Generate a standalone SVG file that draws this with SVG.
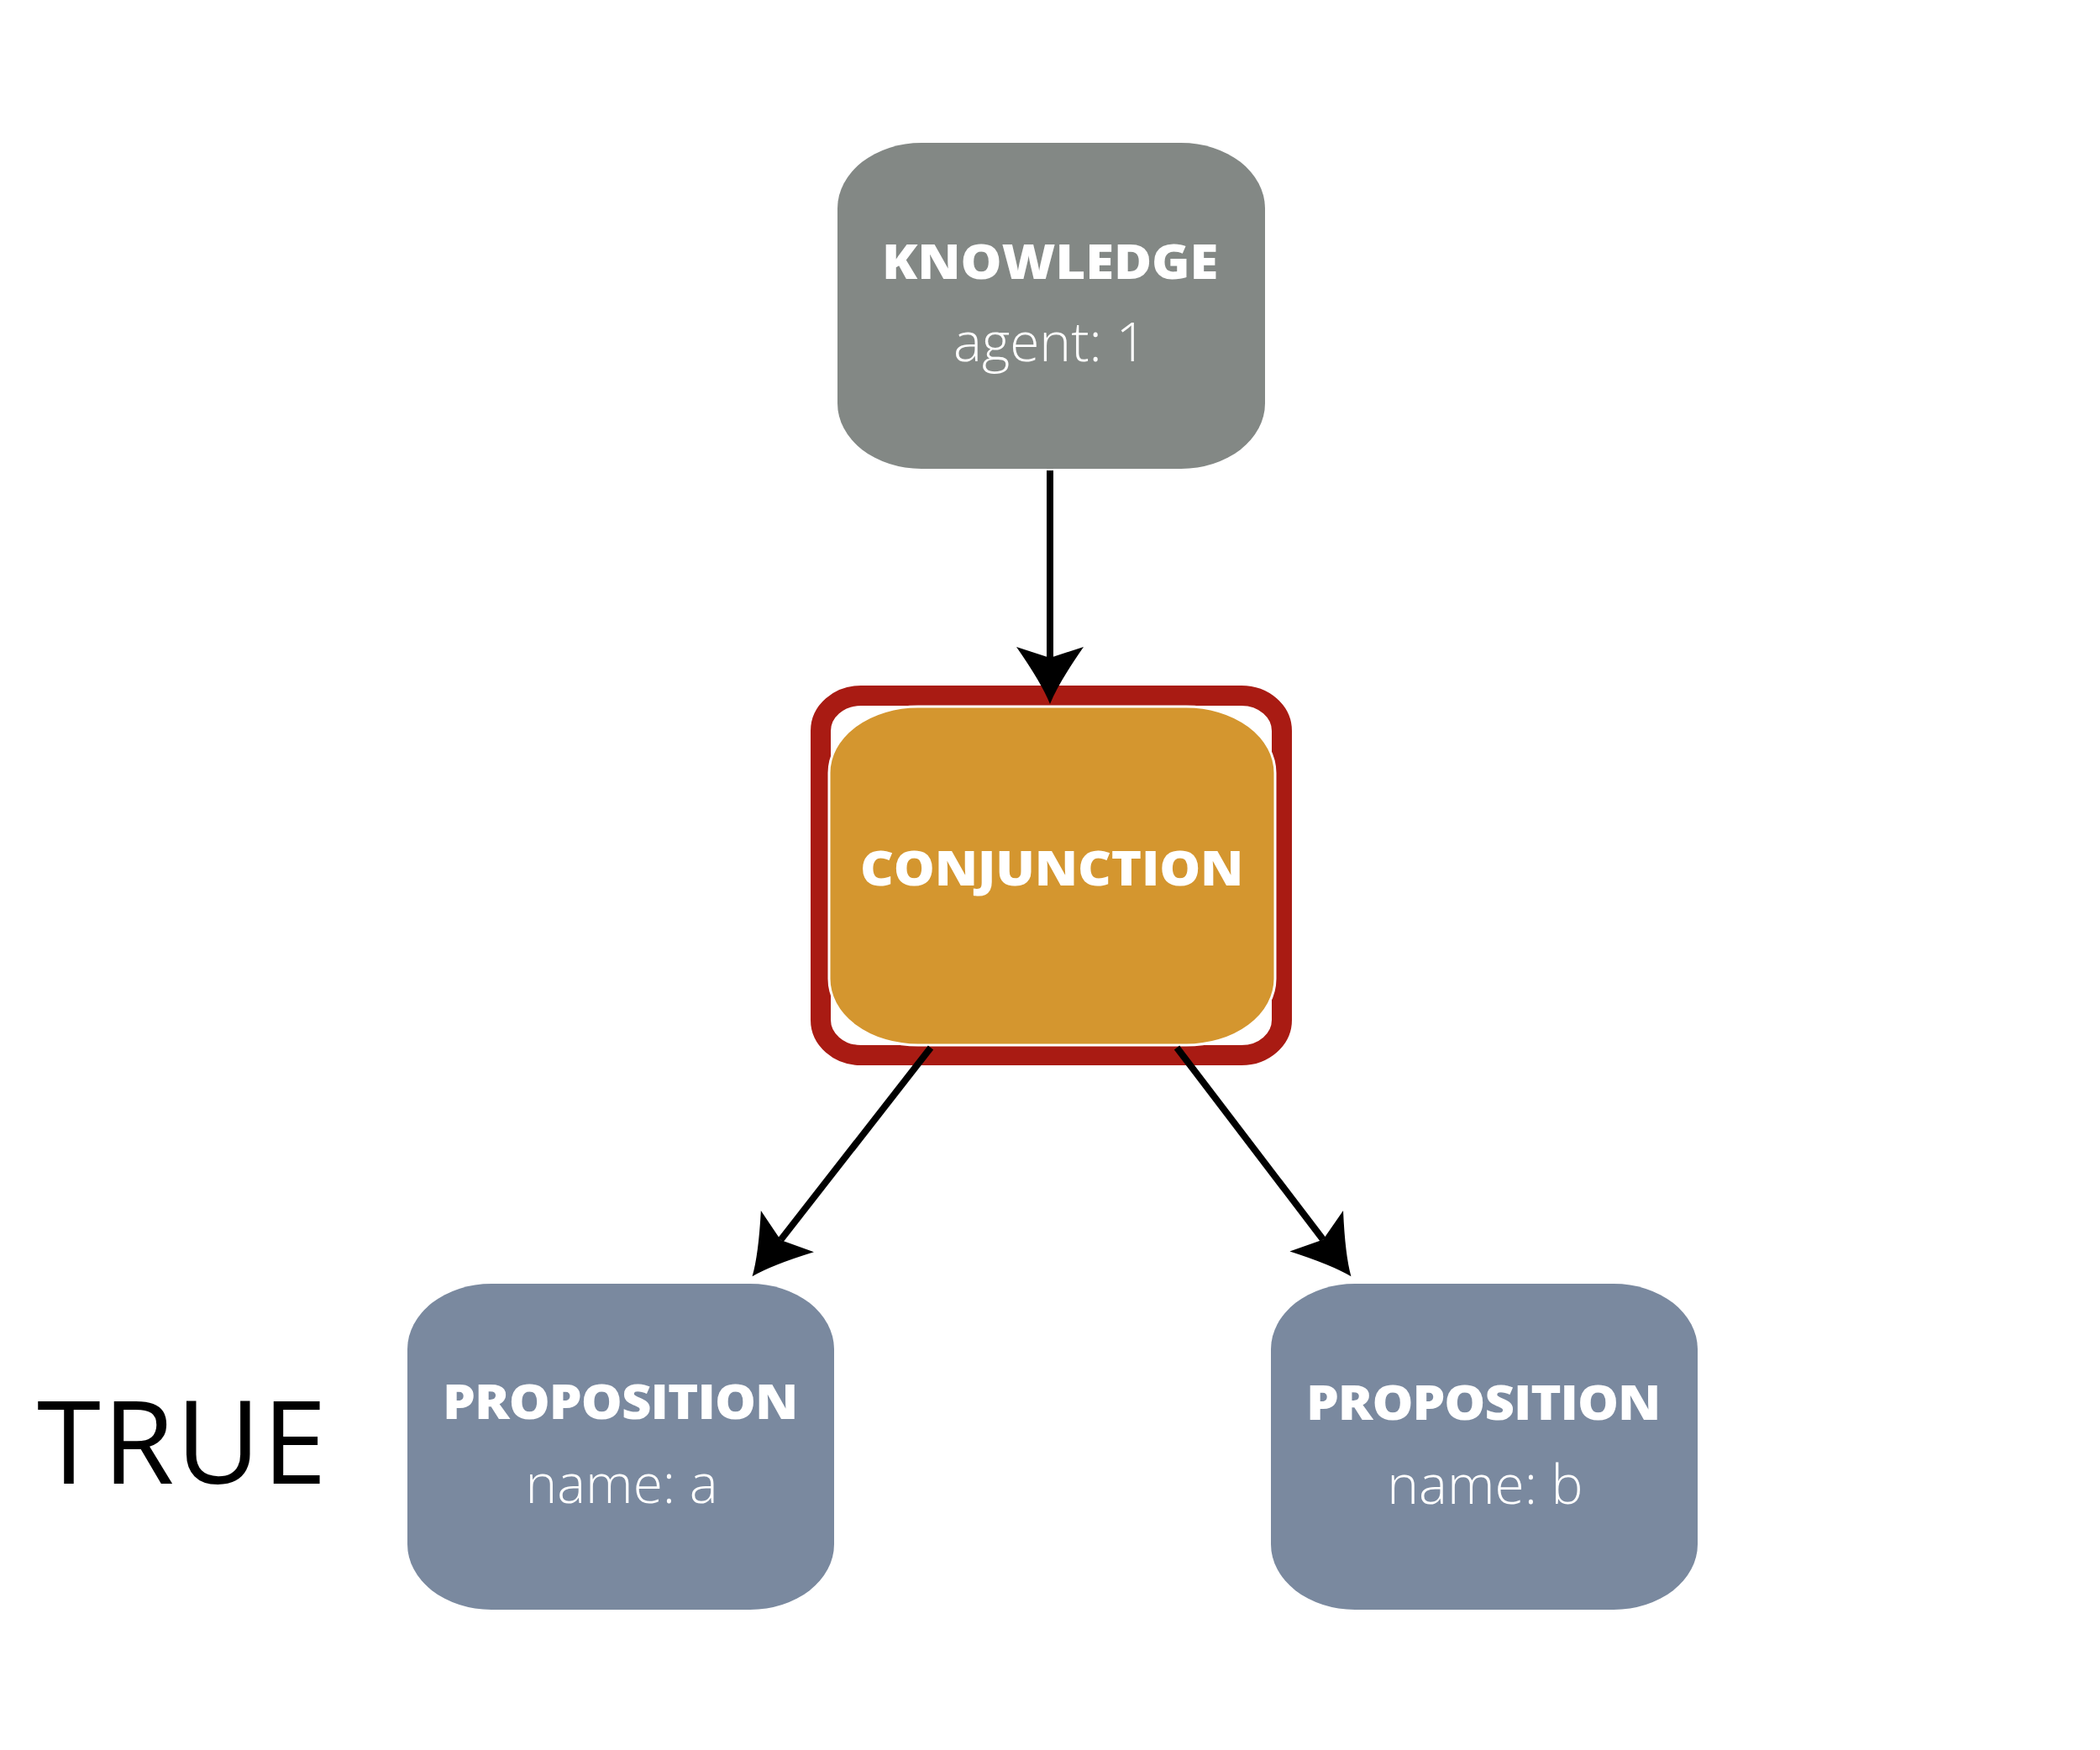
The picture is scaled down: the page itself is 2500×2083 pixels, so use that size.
<svg xmlns="http://www.w3.org/2000/svg" width="2500" height="2083" viewBox="0 0 2500 2083">
<style>
.title{font-family:"Open Sans","DejaVu Sans",sans-serif;font-weight:800;font-size:56px;fill:#ffffff}
.sub{font-family:"Open Sans","DejaVu Sans",sans-serif;font-weight:300;font-size:64px;fill:#ffffff;text-anchor:middle}
.conn{stroke:#000000;stroke-width:8;fill:none}
.big{font-family:"Open Sans","DejaVu Sans",sans-serif;font-weight:400;font-size:138px;fill:#000000}
</style>
<defs>
<marker id="ah" markerUnits="userSpaceOnUse" orient="auto" overflow="visible" markerWidth="1" markerHeight="1" refX="0" refY="0">
<path d="M55,0 Q30,-10 -13,-40 L0,0 L-13,40 Q30,10 55,0 Z" fill="#000000"/>
</marker>
</defs>
<rect width="2500" height="2083" fill="#ffffff"/>
<g id="knowledge">
<rect x="997" y="170" width="509" height="388" rx="100" ry="78" fill="#838885"/>
<text class="title" transform="translate(1050,332) scale(1.1,1)" x="0" y="0" textLength="364" lengthAdjust="spacing">KNOWLEDGE</text>
<text class="sub" x="1250" y="430">agent: 1</text>
</g>
<g id="conjunction">
<rect x="977" y="828" width="549" height="428" rx="48" ry="42" fill="#ffffff" stroke="#a91b13" stroke-width="24"/>
<rect x="987" y="841" width="531" height="403" rx="106" ry="79" fill="#d4962f" stroke="#ffffff" stroke-width="3"/>
<text class="title" transform="translate(1024,1054) scale(1.1,1)" x="0" y="0" textLength="415" lengthAdjust="spacing">CONJUNCTION</text>
</g>
<g id="proposition-a">
<rect x="485" y="1528" width="508" height="388" rx="100" ry="78" fill="#7a899f"/>
<text class="title" transform="translate(527,1689) scale(1.1,1)" x="0" y="0" textLength="385" lengthAdjust="spacing">PROPOSITION</text>
<text class="sub" x="740" y="1789">name: a</text>
</g>
<g id="proposition-b">
<rect x="1513" y="1528" width="508" height="388" rx="100" ry="78" fill="#7a899f"/>
<text class="title" transform="translate(1555,1690) scale(1.1,1)" x="0" y="0" textLength="384" lengthAdjust="spacing">PROPOSITION</text>
<text class="sub" x="1768" y="1790">name: b</text>
</g>
<g id="true-label">
<text class="big" x="44" y="1766" textLength="345" lengthAdjust="spacing">TRUE</text>
</g>
<g id="connectors">
<path class="conn" d="M1250,560 L1250,783" marker-end="url(#ah)"/>
<path class="conn" d="M1108,1247 L929.4,1475.9" marker-end="url(#ah)"/>
<path class="conn" d="M1401,1247 L1575.1,1475.5" marker-end="url(#ah)"/>
</g>
</svg>
